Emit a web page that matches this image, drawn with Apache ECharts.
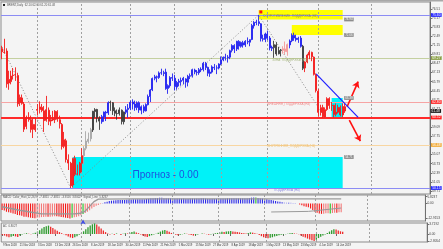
<!DOCTYPE html>
<html><head><meta charset="utf-8">
<script src="https://cdn.jsdelivr.net/npm/echarts@6/dist/echarts.min.js"></script>
<style>html,body{margin:0;padding:0;background:#f4f4f4;}#c{width:443px;height:249px;}</style>
</head><body><div id="c"></div>
<script>
// ---------- DATA ----------
const dates = [
'9 Nov 2018','12 Nov 2018','13 Nov 2018','14 Nov 2018','15 Nov 2018','16 Nov 2018','19 Nov 2018','20 Nov 2018','21 Nov 2018','22 Nov 2018','23 Nov 2018','26 Nov 2018','27 Nov 2018','28 Nov 2018','29 Nov 2018','30 Nov 2018',
'3 Dec 2018','4 Dec 2018','5 Dec 2018','6 Dec 2018','7 Dec 2018','10 Dec 2018','11 Dec 2018','12 Dec 2018','13 Dec 2018','14 Dec 2018','17 Dec 2018','18 Dec 2018','19 Dec 2018','20 Dec 2018','21 Dec 2018','24 Dec 2018','26 Dec 2018','27 Dec 2018','28 Dec 2018','31 Dec 2018',
'2 Jan 2019','3 Jan 2019','4 Jan 2019','7 Jan 2019','8 Jan 2019','9 Jan 2019','10 Jan 2019','11 Jan 2019','14 Jan 2019','15 Jan 2019','16 Jan 2019','17 Jan 2019','18 Jan 2019','21 Jan 2019','22 Jan 2019','23 Jan 2019','24 Jan 2019','25 Jan 2019','28 Jan 2019','29 Jan 2019','30 Jan 2019','31 Jan 2019',
'1 Feb 2019','4 Feb 2019','5 Feb 2019','6 Feb 2019','7 Feb 2019','8 Feb 2019','11 Feb 2019','12 Feb 2019','13 Feb 2019','14 Feb 2019','15 Feb 2019','18 Feb 2019','19 Feb 2019','20 Feb 2019','21 Feb 2019','22 Feb 2019','25 Feb 2019','26 Feb 2019','27 Feb 2019','28 Feb 2019',
'1 Mar 2019','4 Mar 2019','5 Mar 2019','6 Mar 2019','7 Mar 2019','8 Mar 2019','11 Mar 2019','12 Mar 2019','13 Mar 2019','14 Mar 2019','15 Mar 2019','18 Mar 2019','19 Mar 2019','20 Mar 2019','21 Mar 2019','22 Mar 2019','25 Mar 2019','26 Mar 2019','27 Mar 2019','28 Mar 2019','29 Mar 2019',
'1 Apr 2019','2 Apr 2019','3 Apr 2019','4 Apr 2019','5 Apr 2019','8 Apr 2019','9 Apr 2019','10 Apr 2019','11 Apr 2019','12 Apr 2019','15 Apr 2019','16 Apr 2019','17 Apr 2019','18 Apr 2019','22 Apr 2019','23 Apr 2019','24 Apr 2019','25 Apr 2019','26 Apr 2019','29 Apr 2019','30 Apr 2019',
'1 May 2019','2 May 2019','3 May 2019','6 May 2019','7 May 2019','8 May 2019','9 May 2019','10 May 2019','13 May 2019','14 May 2019','15 May 2019','16 May 2019','17 May 2019','20 May 2019','21 May 2019','22 May 2019','23 May 2019','24 May 2019','27 May 2019','28 May 2019','29 May 2019','30 May 2019','31 May 2019',
'3 Jun 2019','4 Jun 2019','5 Jun 2019','6 Jun 2019','7 Jun 2019','10 Jun 2019','11 Jun 2019','12 Jun 2019','13 Jun 2019','14 Jun 2019','17 Jun 2019','18 Jun 2019','19 Jun 2019'
];
const opens = [70.65,70.10,70.30,65.60,65.80,66.70,66.80,66.70,62.70,63.40,62.50,59.20,60.50,60.20,58.80,59.50,
61.60,61.70,62.00,61.50,60.10,61.60,60.00,60.30,60.20,61.40,60.20,59.50,56.30,57.10,54.30,53.80,50.60,54.50,52.20,52.40,
53.80,54.90,56.00,57.00,57.40,58.70,61.40,61.70,60.40,59.90,60.60,61.30,61.20,62.70,62.70,61.50,61.10,61.10,61.60,59.90,61.30,61.70,
61.90,62.80,62.50,62.00,62.70,61.60,62.10,61.50,62.40,63.60,64.60,66.30,66.50,66.40,67.10,67.00,67.20,64.80,65.20,66.40,
66.30,65.00,65.70,65.80,66.00,66.20,65.70,66.60,66.70,67.50,67.20,67.10,67.50,67.60,68.50,67.90,67.00,67.20,67.90,67.80,67.80,
68.40,69.00,69.40,69.30,69.40,70.40,71.10,70.60,71.70,71.00,71.50,71.20,71.70,71.60,72.00,74.00,74.50,74.60,74.30,72.10,72.00,
72.80,72.20,70.70,70.80,71.20,69.90,70.40,70.40,70.60,70.20,71.20,71.80,72.60,72.20,72.00,72.20,71.00,67.80,68.70,69.70,70.10,69.40,66.80,
64.40,61.30,62.00,60.60,61.70,63.30,62.30,62.30,61.00,61.30,62.00,60.90,62.10];
const highs = [71.07,72.10,70.70,67.40,67.40,67.80,67.90,67.10,63.90,63.90,62.80,60.80,61.30,60.80,60.40,60.50,
62.50,62.90,62.50,62.20,63.70,62.00,60.90,61.50,61.60,61.60,60.80,59.70,58.40,57.40,55.10,54.00,54.60,54.90,53.60,54.00,
56.00,56.30,58.50,58.30,59.00,61.50,61.90,61.80,60.70,60.90,61.40,61.50,62.90,63.00,62.80,62.00,61.70,62.00,61.70,61.40,62.20,62.50,
63.00,63.20,63.00,62.90,62.90,62.30,62.40,62.60,63.90,64.70,66.40,66.80,66.70,67.30,67.70,67.40,67.70,65.40,66.60,67.00,
66.80,65.90,66.20,66.40,66.50,66.30,66.80,67.00,67.70,67.70,67.50,67.80,67.90,68.70,68.70,68.00,67.60,68.20,68.40,68.20,68.50,
69.50,69.50,69.90,69.70,70.50,71.30,71.30,71.80,71.90,71.70,71.80,71.90,72.30,72.00,74.30,74.70,74.90,75.60,74.40,72.70,73.00,
73.30,72.50,71.10,71.80,71.60,70.90,70.60,71.00,71.70,71.40,72.00,72.90,73.00,72.70,72.40,72.50,71.20,68.80,69.90,70.40,70.20,69.50,67.00,
64.70,62.40,62.40,62.00,63.50,63.50,62.80,62.40,62.60,62.40,62.30,62.60,62.60];
const lows = [69.10,69.90,64.90,64.60,65.40,66.10,65.90,62.10,62.20,62.40,58.40,58.80,59.90,58.30,57.50,58.40,
60.80,61.10,61.30,58.40,59.90,59.40,59.30,60.00,59.70,59.90,58.90,55.80,56.00,53.90,52.80,50.15,50.20,51.90,52.00,52.00,
52.50,53.60,55.70,56.70,57.00,58.40,60.50,59.80,58.70,59.60,59.90,60.00,60.90,61.50,60.90,60.70,60.20,60.80,59.50,59.50,61.00,60.50,
61.60,61.70,61.50,61.60,61.20,61.00,61.20,61.40,62.30,62.80,64.40,66.00,65.70,66.20,66.80,66.60,64.60,64.00,64.90,65.90,
64.50,64.60,65.10,65.20,65.40,64.90,65.10,66.20,66.40,66.90,66.70,66.80,67.20,67.30,67.50,66.60,66.50,67.00,67.50,66.90,67.60,
68.20,68.80,68.90,68.60,69.10,70.10,70.00,70.30,70.50,70.80,70.80,70.90,71.30,71.00,71.90,73.60,74.10,74.00,71.70,71.70,71.60,
71.90,70.40,70.30,69.30,69.60,69.80,69.50,69.90,69.80,69.60,70.70,71.60,71.80,71.70,71.50,70.80,67.50,67.20,68.50,69.10,68.80,66.70,64.20,
60.70,60.80,60.45,60.50,61.50,61.80,61.50,60.50,60.70,61.10,60.70,60.60,61.20];
const closes = [70.18,70.12,65.47,66.12,66.62,66.76,66.79,62.53,63.48,62.60,58.80,60.48,60.21,58.76,59.51,58.71,
61.69,62.08,61.56,60.06,61.67,59.97,60.20,60.15,61.45,60.28,59.61,56.26,57.24,54.35,53.82,50.47,54.47,52.16,52.20,53.80,
54.91,55.95,57.06,57.33,58.72,61.44,61.68,60.48,59.99,60.64,61.32,61.18,62.70,62.74,61.50,61.14,61.09,61.64,59.93,61.32,61.65,61.89,
62.75,62.51,61.98,62.69,61.63,62.10,61.51,62.42,63.61,64.57,66.25,66.50,66.45,67.08,67.07,67.12,64.76,65.21,66.39,66.31,
65.07,65.67,65.86,65.99,66.30,65.74,66.58,66.67,67.55,67.23,67.16,67.54,67.61,68.50,67.86,67.03,67.21,67.97,67.83,67.82,68.39,
69.01,69.37,69.31,69.40,70.34,71.10,70.61,71.73,71.02,71.55,71.18,71.72,71.62,71.97,74.04,74.51,74.57,74.35,72.15,72.04,72.80,
72.18,70.75,70.85,71.24,69.88,70.37,70.39,70.62,70.23,71.24,71.77,72.62,72.21,71.97,72.18,70.99,67.76,68.69,69.70,70.11,69.45,66.87,64.49,
61.28,61.97,60.63,61.67,63.29,62.29,62.29,60.97,61.31,62.01,60.94,62.14,61.48];
const oscHist = [
-5.6,-6.0,-7.1,-7.6,-8.0,-8.5,-9.0,-9.8,-10.2,-10.5,
-11.3,-11.5,-11.8,-12.2,-12.4,-12.6,-12.3,-12.0,-11.7,-11.6,
-11.3,-11.4,-11.3,-11.2,-11.0,-11.0,-11.1,-11.6,-11.8,-12.2,
-12.5,-12.8,-12.3,-11.9,-11.5,-10.9,-10.1,-9.0,-8.1,-7.0,
-5.8,-4.4,-3.1,-2.0,-1.2,-0.5,0.3,1.0,1.6,2.1,
2.4,2.6,2.8,2.9,3.0,3.0,3.1,3.2,3.4,3.5,
3.6,3.6,3.7,3.7,3.6,3.7,3.9,4.1,4.4,4.6,
4.7,4.8,4.9,4.9,4.6,4.5,4.5,4.5,4.3,4.2,
4.2,4.2,4.2,4.2,4.1,4.1,4.2,4.2,4.2,4.2,
4.3,4.4,4.4,4.2,4.1,4.1,4.1,4.1,4.1,4.2,
4.3,4.3,4.3,4.4,4.5,4.5,4.6,4.6,4.6,4.6,
4.6,4.6,4.6,4.8,5.0,5.1,5.1,4.8,4.5,4.3,
4.0,3.6,3.2,2.9,2.5,2.1,1.8,1.4,1.0,0.8,
0.7,0.7,0.6,0.5,0.4,0.1,-0.8,-1.6,-2.3,-2.7,
-3.3,-4.4,-5.7,-7.1,-8.0,-8.6,-8.9,-8.8,-8.4,-8.3,
-8.5,-8.2,-7.9,-7.9,-7.6,-7.5];
const oscSignal = [[0,-2.8],[8,-5.8],[18,-9.0],[33,-9.0],[36,-8.4],[38,-6.5],[40,-2.5],[42,1.6],[44,3.7],[60,3.9],[155,3.9]];
const oscSignal2 = [[123,-7.3],[140,-6.8],[155,-3.9]];
const signalBars = [32,37,116,150];
const acValues = [
-0.3,-0.6,-0.9,-1.2,-1.0,-0.7,-0.9,-1.1,-0.6,
-0.2,0.1,0.3,0.1,-0.1,0.2,0.5,
0.9,1.4,2.0,2.6,2.9,3.1,
2.7,2.2,1.7,1.2,0.7,0.3,-0.1,
-0.5,-0.9,-1.3,-1.5,-1.2,-0.8,-0.3,0.3,
1.0,1.8,2.5,3.1,3.6,3.9,3.5,
2.8,2.0,1.3,0.7,0.2,
-0.2,0.1,-0.3,0.2,0.0,-0.4,0.1,0.3,0.2,0.5,
0.7,0.9,0.6,0.3,
-0.2,-0.6,-0.9,-1.1,-0.8,-0.5,-0.2,0.1,
0.5,0.9,1.3,1.5,1.2,0.8,0.4,
0.0,-0.3,-0.5,-0.3,-0.1,0.2,0.1,-0.2,-0.4,-0.6,-0.4,-0.2,0.0,0.2,0.1,-0.1,-0.3,-0.2,0.1,0.3,0.4,
0.6,0.8,0.7,0.9,1.0,1.1,0.9,0.8,0.7,
0.6,0.4,0.3,0.2,0.4,0.6,0.5,0.3,0.1,
-0.4,-0.8,-1.2,-1.5,-1.6,-1.4,-1.2,-0.9,
-0.7,-0.5,-0.3,-0.2,-0.1,0.1,
0.3,0.4,0.2,0.1,-0.1,
-0.6,-1.0,-1.3,-1.7,-2.0,-2.3,-2.6,
-2.1,-1.5,-1.0,-0.6,-0.2,0.4,
0.9,1.4,1.8,1.7,
1.3,1.0,0.8];
const priceTicks = [49.71,51.05,52.39,53.73,55.07,56.41,57.75,59.09,60.43,61.77,63.11,64.45,65.79,67.13,68.47,69.81,71.15,72.49,73.83,75.17,76.51];
const oscTicks = [5.8237, 0, -12.9153];
const acTicks = [3.7192, 0, -2.8054];
const monthStarts = [16,36,58,78,99,120,143,167];
const levelPrices = [75.60, 69.27, 62.80, 60.52, 56.48, 50.15];
const levelNames = ['', 'ЗОНА_ПОДДЕРЖКИ (H4)', 'ВНЕШНЯЯ_ПОДДЕРЖКА (H4)', '', 'ВНУТРЕННЯЯ_ПОДДЕРЖКА (H4)', 'ПОДДЕРЖКА (H4)'];
const zoneStart = [116, 131, 32, 149];
const zoneEnd = [154, 154, 154, 154];
const zoneHigh = [76.34, 74.13, 54.71, 63.39];
const zoneLow = [74.94, 72.66, 50.15, 60.45];
const zigzag = [[0,70.9],[31,50.15],[116,75.6],[146,60.5]];
const trendLine = [[142,66.95],[161,60.55]];
const arrowUp = [[156,62.1],[161,65.8]];
const arrowDown = [[157,60.15],[162,57.05]];
const lastPrice = 61.48;
const forecastText = 'Прогноз - 0.00';
const forecastAt = [59, 52.0];
const topMarker = [117, 76.05];

// ---------- BUILD ----------
const N = 194;
const xCats = dates.concat(new Array(N - dates.length).fill(''));
const RED='#f41c1c', BLUE='#2424f0', GREY='#a8a8a8', DARK='#3c3c3c', PINK='#f49a9a';
function phaseColor(i){
  if(i<=36) return RED; if(i<=40) return GREY; if(i<=44) return DARK; if(i<=48) return BLUE;
  if(i<=55) return DARK; if(i<=122) return BLUE; if(i<=126) return DARK; if(i<=129) return PINK;
  if(i<=135) return BLUE; if(i===136) return DARK; return RED;
}
const candleData = dates.map((d,i)=>{const c=phaseColor(i);return {value:[opens[i],closes[i],lows[i],highs[i]],itemStyle:{color:c,color0:c,borderColor:c,borderColor0:c}};});
const oscData = oscHist.map((v,i)=>{
  let c;
  if(signalBars.indexOf(i)>=0) c='#1fc21f';
  else if(v<0) c = (i>0 && v>oscHist[i-1]) ? '#f47a7a' : '#f41818';
  else c = (i>0 && v<oscHist[i-1] && v<1) ? '#9090f0' : '#2a2ae8';
  return {value:v,itemStyle:{color:c}};
});
const acData = acValues.map((v,i)=>({value:v,itemStyle:{color:(i>0 && v>acValues[i-1])?'#2e9a2e':'#ee2a2a'}}));

const FONT='Liberation Sans';
const levelStyle = [
  {line:'#8c8cf4',bg:'#2c2cff',fg:'#fff',w:1,txt:'#8080e0'},
  {line:'#c4d0a0',bg:'#8aa048',fg:'#fff',w:1,txt:'#a4b47c'},
  {line:'#f6a4a4',bg:'#ff2c2c',fg:'#fff',w:1,txt:'#f08a8a'},
  {line:'#ff2a2a',bg:'#ff2020',fg:'#fff',w:2,txt:'#f08a8a'},
  {line:'#f8d6a2',bg:'#f2ac3a',fg:'#fff',w:1,txt:'#f0c070'},
  {line:'#8c8cf4',bg:'#2c2cff',fg:'#fff',w:1,txt:'#8080e0'}
];
const vSep = monthStarts.map(m=>({xAxis:m,lineStyle:{color:'#a0a0a0',type:[2,2],width:1},label:{show:false}}));
const hLines = levelPrices.map((p,k)=>({yAxis:p,lineStyle:{color:levelStyle[k].line,width:levelStyle[k].w,type:'solid'},
  label:{show:true,position:'end',distance:1,formatter:p.toFixed(2),backgroundColor:levelStyle[k].bg,color:levelStyle[k].fg,fontSize:3.3,fontFamily:FONT,padding:[0.6,1.2,0.2,1.2]}}));
const arrows = [arrowUp, arrowDown].map(a=>[
  {coord:a[0],symbol:'none',lineStyle:{color:'#ff1010',width:1.6,type:'solid'}},
  {coord:a[1],symbol:'arrow',symbolSize:6}]);
const zones = zoneStart.map((s,k)=>[
  {xAxis:s,yAxis:zoneHigh[k],itemStyle:{color:k<2?'#ffff00':'#00f2f8',opacity:1}},
  {xAxis:zoneEnd[k],yAxis:zoneLow[k]}]);
const txt = (coord,text,color,size)=>({coord:coord,symbol:'rect',symbolSize:0,
  label:{show:true,position:'right',distance:0,formatter:text,color:color,fontSize:size,fontFamily:FONT}});
const markPts = [];
markPts.push(txt(forecastAt,forecastText,'#1e4fe0',10));
markPts.push(txt([118,75.45],'СОПРОТИВЛЕНИЕ_ПОДДЕРЖКА (H4)','#8a8a50',3));
markPts.push(txt([122,68.98],levelNames[1],levelStyle[1].txt,3));
markPts.push(txt([120,62.51],levelNames[2],levelStyle[2].txt,3));
markPts.push(txt([120,56.33],levelNames[4],levelStyle[4].txt,3));
markPts.push(txt([123,49.80],levelNames[5],levelStyle[5].txt,3));
zoneStart.forEach((s,k)=>{
  const v = k<2 ? zoneLow[k] : zoneHigh[k];
  markPts.push({coord:[zoneEnd[k],v],symbol:'rect',symbolSize:0,label:{show:true,position:'right',distance:1.5,formatter:v.toFixed(2),
    backgroundColor:'#8c8c8c',color:'#fff',fontSize:3,fontFamily:FONT,padding:[0.6,1,0.2,1]}});
});
markPts.push({coord:[N-1,lastPrice],symbol:'rect',symbolSize:0,label:{show:true,position:'right',distance:1.5,formatter:lastPrice.toFixed(2),
  backgroundColor:'#1a1a1a',color:'#fff',fontSize:3.3,fontFamily:FONT,padding:[0.6,1.2,0.2,1.2]}});
markPts.push({coord:topMarker,symbol:'rect',symbolSize:3,itemStyle:{color:'#ff1010'},label:{show:false}});

const G = [{left:1,top:2,width:430,height:192},{left:1,top:195,width:430,height:26},{left:1,top:223,width:430,height:19}];
const grids = G.map(g=>Object.assign({show:true,borderColor:'#8c8c8c',borderWidth:1,backgroundColor:'transparent'},g));
const labelIdx = (i)=>i%8===0&&i<=152;
const xAxes = [0,1,2].map(gi=>({type:'category',gridIndex:gi,data:xCats,boundaryGap:true,
  axisLine:{show:false},splitLine:{show:false},
  axisTick:{show:gi===2,interval:labelIdx,alignWithLabel:true,length:2,lineStyle:{color:'#666'}},
  axisLabel:{show:gi===2,interval:labelIdx,hideOverlap:false,
    formatter:(v)=>'{a|'+v+'}',
    rich:{a:{align:'left',fontSize:2.7,fontFamily:FONT,color:'#333',padding:[0,0,0,15]}},
    fontSize:2.7,fontFamily:FONT,color:'#333',margin:2}}));
const yBase = (gi,min,max,ticks,fmt)=>({type:'value',gridIndex:gi,position:'right',min:min,max:max,scale:true,
  axisLine:{show:true,lineStyle:{color:'#707070'}},splitLine:{show:false},
  axisTick:{show:true,length:2,customValues:ticks,lineStyle:{color:'#707070'}},
  axisLabel:{show:true,customValues:ticks,formatter:fmt,fontSize:3.2,fontFamily:FONT,color:'#444',margin:2,hideOverlap:false}});
const yAxes = [
  yBase(0,49.27,77.51,priceTicks,v=>v.toFixed(2)),
  yBase(1,-15.05,7.3,oscTicks,v=>v===0?'0.00':v.toFixed(4)),
  yBase(2,-2.96,4.07,acTicks,v=>v===0?'0.00':v.toFixed(4))
];

const option = {
  animation:false,
  backgroundColor:'#f4f4f4',
  grid:grids, xAxis:xAxes, yAxis:yAxes,
  graphic:[
    {type:'rect',shape:{x:0,y:0,width:443,height:1.5},style:{fill:'#a8a8a8'},silent:true},
    {type:'rect',shape:{x:3,y:4,width:2,height:2},style:{fill:'#222'},silent:true},
    {type:'text',left:7,top:3.6,style:{text:'BRENT,Daily  62.10 62.60 61.20 61.48',fontSize:2.8,fontFamily:FONT,fill:'#555'}},
    {type:'text',left:3,top:196,style:{text:'MACD_Color_Hist (12,26,9)  -7.4851  -7.4851  -3.9116  3.8002   Signal_Line  5.8237',fontSize:2.8,fontFamily:FONT,fill:'#555'}},
    {type:'text',left:3,top:224.5,style:{text:'AC  0.8027',fontSize:2.8,fontFamily:FONT,fill:'#555'}}
  ],
  series:[
    {type:'candlestick',xAxisIndex:0,yAxisIndex:0,data:candleData,barWidth:1.5,itemStyle:{borderWidth:0.9},z:3,
     markArea:{silent:true,data:zones,z:1},
     markLine:{silent:true,symbol:['none','none'],animation:false,data:vSep.concat(hLines).concat(arrows),z:2},
     markPoint:{silent:true,label:{show:false},data:markPts,z:5}},
    {type:'line',xAxisIndex:0,yAxisIndex:0,data:zigzag,symbol:'none',lineStyle:{color:'#8a8a8a',width:1,type:[1,2]},z:2},
    {type:'line',xAxisIndex:0,yAxisIndex:0,data:trendLine,symbol:'none',lineStyle:{color:'#2020ff',width:1.2},z:4},
    {type:'bar',xAxisIndex:1,yAxisIndex:1,data:oscData,barWidth:1.1,
     markLine:{silent:true,symbol:['none','none'],data:vSep}},
    {type:'line',xAxisIndex:1,yAxisIndex:1,data:oscSignal,symbol:'none',lineStyle:{color:'#9a9a9a',width:1.3}},
    {type:'line',xAxisIndex:1,yAxisIndex:1,data:oscSignal2,symbol:'none',lineStyle:{color:'#9a9a9a',width:1}},
    {type:'scatter',xAxisIndex:1,yAxisIndex:1,data:[[37,-13.8]],symbol:'arrow',symbolSize:[4,5],itemStyle:{color:'#2030f0'}},
    {type:'bar',xAxisIndex:2,yAxisIndex:2,data:acData,barWidth:1.3,
     markLine:{silent:true,symbol:['none','none'],data:vSep}}
  ]
};
const chart = echarts.init(document.getElementById('c'),null,{renderer:'canvas'});
chart.setOption(option);
</script></body></html>
